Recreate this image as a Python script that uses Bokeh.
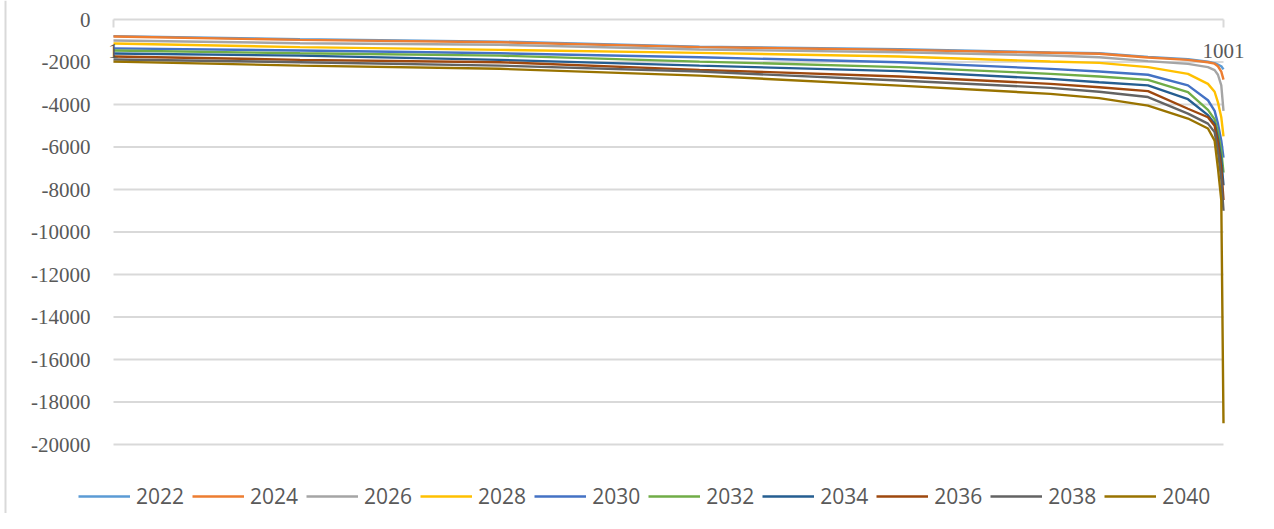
from bokeh.plotting import figure
from bokeh.models import (ColumnDataSource, Legend, LegendItem, LabelSet, Range1d, Span)
from bokeh.embed import file_html
from bokeh.resources import INLINE

# ---- data ----
idx = [1, 169, 349, 529, 709, 845, 889, 933, 969, 987, 993, 996, 999, 1001]
years = ["2022", "2024", "2026", "2028", "2030", "2032", "2034", "2036", "2038", "2040"]
s2022 = [-780, -930, -1040, -1280, -1400, -1550, -1590, -1760, -1870, -1990, -2050, -2120, -2200, -2350]
s2024 = [-800, -960, -1070, -1300, -1430, -1567, -1615, -1790, -1900, -2010, -2080, -2200, -2450, -2830]
s2026 = [-990, -1115, -1190, -1410, -1540, -1694, -1775, -1960, -2090, -2240, -2380, -2600, -3100, -4300]
s2028 = [-1130, -1300, -1430, -1570, -1740, -1977, -2040, -2240, -2560, -3030, -3400, -3900, -4600, -5500]
s2030 = [-1360, -1460, -1590, -1775, -2010, -2322, -2450, -2600, -3100, -3800, -4300, -4900, -5700, -6500]
s2032 = [-1460, -1590, -1700, -1980, -2240, -2557, -2680, -2840, -3420, -4250, -4700, -5300, -6200, -7200]
s2034 = [-1600, -1700, -1900, -2170, -2430, -2792, -2950, -3100, -3750, -4500, -4900, -5600, -6600, -7800]
s2036 = [-1740, -1900, -2010, -2370, -2680, -3027, -3190, -3370, -4200, -4600, -5000, -5800, -7000, -8500]
s2038 = [-1880, -2010, -2170, -2450, -2870, -3216, -3400, -3650, -4430, -4900, -5300, -6200, -7500, -9000]
s2040 = [-1980, -2170, -2320, -2640, -3110, -3498, -3700, -4050, -4660, -5130, -5700, -7000, -8500, -19000]
series = [s2022, s2024, s2026, s2028, s2030, s2032, s2034, s2036, s2038, s2040]

y_ticks = [0, -2000, -4000, -6000, -8000, -10000, -12000, -14000, -16000, -18000, -20000]
y_tick_labels = ["0", "-2000", "-4000", "-6000", "-8000", "-10000", "-12000",
                 "-14000", "-16000", "-18000", "-20000"]
x_tick_pos = [1, 1001]
x_tick_labels = ["1", "1001"]

colors = ["#5B9BD5", "#ED7D31", "#A5A5A5", "#FFC000", "#4472C4",
          "#70AD47", "#255E91", "#9E480E", "#636363", "#997300"]

FONT = "Open Sans"
TXT = "#595959"
GRID = "#D9D9D9"
FS = "21px"

# ---- layout (pixels): plot area spans x 113..1223, y 19..444 ----
W, H = 1258, 513
PX_L, PX_R, PX_T, PX_B = 113, 1223, 19, 444
PX_BORDER = 5
x0, x1 = x_tick_pos[0], x_tick_pos[-1]
y_top, y_bot = y_ticks[0], y_ticks[-1]
ux = (x1 - x0) / (PX_R - PX_L)
uy = (y_top - y_bot) / (PX_B - PX_T)
xr = Range1d(x0 - PX_L * ux, x1 + (W - PX_R) * ux)
yr = Range1d(y_bot - (H - PX_B) * uy, y_top + PX_T * uy)

p = figure(width=W, height=H, output_backend="svg", toolbar_location=None,
           x_axis_type=None, y_axis_type=None, min_border=0,
           x_range=xr, y_range=yr)
p.outline_line_color = None
p.grid.grid_line_color = None
p.background_fill_color = "white"
p.border_fill_color = "white"

# chart-area border on the left
p.add_layout(Span(location=x0 - (PX_L - PX_BORDER) * ux, dimension="height",
                  line_color=GRID, line_width=2))

# horizontal gridlines (value axis) spanning the category axis
p.segment(x0=[x0] * len(y_ticks), x1=[x1] * len(y_ticks), y0=y_ticks, y1=y_ticks,
          line_color=GRID, line_width=2)
# category-axis end tick marks (axis crosses at 0)
p.ray(x=x_tick_pos, y=[y_top] * len(x_tick_pos), length=8, angle=-90,
      angle_units="deg", length_units="screen", line_color=GRID, line_width=2)

items = []
for yr_, vals, c in zip(years, series, colors):
    r = p.line(idx, vals, line_color=c, line_width=2.4)
    items.append(LegendItem(label=yr_, renderers=[r]))

# value-axis labels
ysrc = ColumnDataSource(dict(x=[x0] * len(y_ticks), y=y_ticks, text=y_tick_labels))
p.add_layout(LabelSet(x="x", y="y", text="text", source=ysrc, x_offset=-23,
                      text_align="right", text_baseline="middle",
                      text_font=FONT, text_font_size=FS, text_color=TXT))
# category-axis labels
xsrc = ColumnDataSource(dict(x=x_tick_pos, y=[y_top] * len(x_tick_pos), text=x_tick_labels))
p.add_layout(LabelSet(x="x", y="y", text="text", source=xsrc, y_offset=-31,
                      text_align="center", text_baseline="middle",
                      text_font=FONT, text_font_size=FS, text_color=TXT))

legend = Legend(items=items, orientation="horizontal", location=(78, 3),
                glyph_width=52, glyph_height=24, label_height=24,
                label_standoff=6, spacing=8,
                padding=0, margin=0, border_line_color=None,
                background_fill_alpha=0,
                label_text_font=FONT, label_text_font_size=FS,
                label_text_color=TXT)
p.add_layout(legend)

open("out.html", "w").write(file_html(p, INLINE))
